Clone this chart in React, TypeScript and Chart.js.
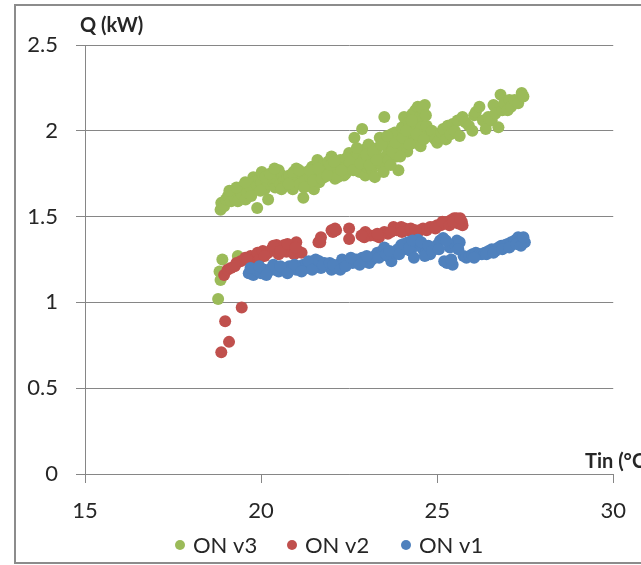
import React, { useEffect, useRef } from "react";
import { Chart, registerables } from "chart.js";

Chart.register(...registerables);

// Heat output Q (kW) against inlet temperature Tin (°C) for three fan speeds.
const seriesLabels = ["ON v3", "ON v2", "ON v1"];
const seriesColors = ["#9BBB59", "#C0504D", "#4F81BD"];

const onV3: [number, number][] = [
  [18.78, 1.02], [18.85, 1.13], [18.82, 1.18], [18.9, 1.25], [19.34, 1.27],
  [18.85, 1.54], [18.87, 1.58], [18.95, 1.56], [19.0, 1.6], [19.06, 1.62],
  [19.15, 1.59], [19.2, 1.64], [19.25, 1.61], [19.34, 1.59], [19.4, 1.66],
  [19.5, 1.68], [19.45, 1.63], [19.56, 1.6], [19.6, 1.64], [19.65, 1.69],
  [19.7, 1.67], [19.78, 1.73], [19.82, 1.7], [19.89, 1.55], [19.9, 1.68],
  [19.95, 1.72], [20.0, 1.7], [20.05, 1.74], [20.1, 1.66], [20.15, 1.71],
  [20.2, 1.6], [20.22, 1.69], [20.3, 1.73], [20.35, 1.7], [20.4, 1.67],
  [20.45, 1.72], [20.5, 1.77], [20.55, 1.69], [20.6, 1.74], [20.65, 1.71],
  [20.7, 1.68], [20.75, 1.73], [20.8, 1.74], [20.85, 1.7], [20.9, 1.66],
  [20.95, 1.72], [21.0, 1.78], [21.05, 1.73], [21.1, 1.69], [21.16, 1.75],
  [21.2, 1.61], [21.25, 1.71], [21.3, 1.76], [21.35, 1.68], [21.4, 1.73],
  [21.45, 1.79], [21.5, 1.66], [21.52, 1.77], [21.58, 1.74], [21.6, 1.83],
  [21.65, 1.7], [21.7, 1.76], [21.75, 1.8], [21.8, 1.73], [21.85, 1.77],
  [21.9, 1.82], [21.95, 1.75], [22.0, 1.85], [22.05, 1.78], [22.1, 1.72],
  [22.15, 1.8], [22.2, 1.76], [22.25, 1.83], [22.3, 1.79], [22.35, 1.74],
  [22.4, 1.75], [22.45, 1.81], [22.5, 1.87], [22.55, 1.78], [22.6, 1.84],
  [22.65, 1.96], [22.7, 1.8], [22.75, 1.86], [22.8, 1.76], [22.87, 2.01],
  [22.9, 1.83], [22.93, 1.89], [22.96, 1.74], [23.0, 1.79], [23.05, 1.92],
  [23.1, 1.85], [23.15, 1.77], [23.2, 1.81], [23.23, 1.73], [23.25, 1.87],
  [23.3, 1.9], [23.37, 1.96], [23.4, 1.84], [23.45, 1.79], [23.5, 2.08],
  [23.55, 1.93], [23.6, 1.87], [23.62, 1.83], [23.7, 1.98], [23.75, 1.9],
  [23.8, 1.99], [23.85, 1.85], [23.9, 1.77], [23.92, 1.91], [24.0, 2.02],
  [24.06, 2.08], [24.1, 1.95], [24.15, 1.88], [24.2, 2.05], [24.25, 1.99],
  [24.3, 2.1], [24.34, 1.93], [24.38, 2.12], [24.4, 2.04], [24.45, 2.14],
  [24.47, 1.93], [24.5, 2.08], [24.53, 1.91], [24.55, 2.02], [24.6, 2.11],
  [24.65, 2.15], [24.7, 2.03], [24.72, 1.97], [24.8, 1.97], [24.85, 2.0],
  [24.94, 1.95], [25.0, 1.93], [25.08, 1.96], [25.12, 1.99], [25.17, 2.01],
  [25.25, 1.95], [25.3, 2.03], [25.38, 1.98], [25.44, 2.04], [25.5, 2.0],
  [25.58, 2.06], [25.64, 1.97], [25.72, 2.08], [25.8, 2.05], [25.9, 2.03],
  [26.0, 2.0], [26.05, 2.09], [26.1, 2.11], [26.2, 2.14], [26.3, 2.06],
  [26.38, 2.01], [26.45, 2.08], [26.55, 2.06], [26.6, 2.15], [26.65, 2.1],
  [26.74, 2.02], [26.8, 2.21], [26.85, 2.12], [26.9, 2.16], [27.0, 2.12],
  [27.05, 2.18], [27.1, 2.14], [27.2, 2.18], [27.3, 2.16], [27.4, 2.22],
  [27.45, 2.2],
  [19.1, 1.65], [19.3, 1.67], [19.55, 1.7], [19.72, 1.62], [19.98, 1.65],
  [20.02, 1.76], [20.12, 1.73], [20.25, 1.75], [20.38, 1.78], [20.58, 1.66],
  [20.78, 1.69], [20.92, 1.76], [21.08, 1.77], [21.22, 1.67], [21.38, 1.77],
  [21.48, 1.71], [21.62, 1.78], [21.72, 1.72], [21.88, 1.74], [21.98, 1.8],
  [22.08, 1.82], [22.18, 1.73], [22.28, 1.77], [22.42, 1.84], [22.52, 1.82],
  [22.62, 1.77], [22.72, 1.9], [22.82, 1.81], [22.98, 1.86], [23.08, 1.8],
  [23.18, 1.88], [23.28, 1.83], [23.42, 1.92], [23.48, 1.76], [23.58, 1.97],
  [23.68, 1.8], [23.72, 1.88], [23.82, 1.93], [23.95, 1.85], [24.02, 1.96],
  [24.12, 2.0], [24.22, 1.92], [24.28, 2.06], [24.42, 1.98], [24.58, 2.13],
  [24.62, 1.95], [24.68, 2.09],
];

const onV2: [number, number][] = [
  [18.87, 0.71], [19.09, 0.77], [18.98, 0.89], [19.45, 0.97], [18.95, 1.16],
  [19.05, 1.19], [19.14, 1.2], [19.3, 1.23], [19.42, 1.24], [19.55, 1.26],
  [19.7, 1.27], [19.8, 1.25], [19.9, 1.29], [19.97, 1.26], [20.05, 1.3],
  [20.2, 1.29], [20.3, 1.31], [20.44, 1.335], [20.5, 1.28], [20.6, 1.32],
  [20.66, 1.335], [20.72, 1.295], [20.8, 1.3], [20.88, 1.33], [20.94, 1.28],
  [21.0, 1.35], [21.05, 1.3], [21.15, 1.29], [21.63, 1.35], [21.7, 1.38],
  [22.0, 1.42], [22.04, 1.41], [22.13, 1.42], [22.5, 1.43], [22.5, 1.37],
  [22.93, 1.38], [22.96, 1.41], [23.1, 1.39], [23.23, 1.39], [23.35, 1.38],
  [23.5, 1.41], [23.6, 1.4], [23.76, 1.44], [23.85, 1.42], [23.98, 1.44],
  [24.08, 1.43], [24.17, 1.42], [24.3, 1.41], [24.45, 1.41], [24.52, 1.42],
  [24.6, 1.43], [24.7, 1.42], [24.8, 1.44], [24.9, 1.44], [25.0, 1.45],
  [25.1, 1.45], [25.2, 1.46], [25.3, 1.47], [25.4, 1.48], [25.48, 1.49],
  [25.55, 1.49], [25.62, 1.48], [25.7, 1.47], [25.72, 1.45], [25.6, 1.46],
  [19.25, 1.21], [19.6, 1.25], [20.1, 1.27], [20.35, 1.33], [20.55, 1.3],
  [20.75, 1.34], [20.98, 1.32], [21.68, 1.35], [22.1, 1.43], [22.85, 1.39],
  [23.3, 1.4], [23.68, 1.41], [24.0, 1.41], [24.25, 1.43], [24.38, 1.42],
  [24.95, 1.43], [25.15, 1.47], [25.35, 1.45], [25.45, 1.47], [25.65, 1.49],
];

const onV1: [number, number][] = [
  [19.65, 1.17], [19.78, 1.16], [19.85, 1.19], [19.92, 1.18], [20.0, 1.17],
  [20.1, 1.19], [20.2, 1.18], [20.3, 1.2], [20.4, 1.19], [20.5, 1.18],
  [20.6, 1.2], [20.7, 1.19], [20.8, 1.21], [20.9, 1.2], [21.0, 1.19],
  [21.1, 1.21], [21.2, 1.22], [21.3, 1.2], [21.4, 1.23], [21.5, 1.21],
  [21.55, 1.25], [21.6, 1.22], [21.7, 1.2], [21.8, 1.23], [21.9, 1.21],
  [22.0, 1.19], [22.13, 1.2], [22.2, 1.22], [22.3, 1.25], [22.45, 1.24],
  [22.6, 1.23], [22.7, 1.25], [22.87, 1.26], [22.95, 1.24], [23.07, 1.23],
  [23.15, 1.25], [23.23, 1.27], [23.3, 1.29], [23.43, 1.3], [23.5, 1.32],
  [23.6, 1.27], [23.7, 1.24], [23.78, 1.29], [23.88, 1.31], [23.98, 1.335],
  [24.08, 1.31], [24.17, 1.35], [24.25, 1.3], [24.34, 1.26], [24.4, 1.33],
  [24.45, 1.365], [24.52, 1.34], [24.6, 1.31], [24.7, 1.3], [24.8, 1.28],
  [24.9, 1.31], [25.0, 1.335], [25.08, 1.36], [25.17, 1.375], [25.2, 1.24],
  [25.28, 1.23], [25.36, 1.32], [25.44, 1.22], [25.5, 1.34], [25.56, 1.36],
  [25.64, 1.35], [25.75, 1.27], [25.83, 1.26], [25.92, 1.27], [26.0, 1.28],
  [26.1, 1.29], [26.2, 1.28], [26.27, 1.28], [26.35, 1.29], [26.46, 1.3],
  [26.55, 1.31], [26.65, 1.3], [26.74, 1.32], [26.82, 1.33], [26.93, 1.335],
  [27.0, 1.34], [27.1, 1.35], [27.2, 1.36], [27.3, 1.38], [27.35, 1.36],
  [27.42, 1.37], [27.49, 1.35],
  [19.7, 1.2], [19.95, 1.21], [20.15, 1.16], [20.35, 1.22], [20.55, 1.21],
  [20.75, 1.17], [20.95, 1.22], [21.15, 1.18], [21.35, 1.24], [21.45, 1.19],
  [21.65, 1.24], [21.75, 1.22], [21.95, 1.23], [22.05, 1.22], [22.25, 1.19],
  [22.4, 1.21], [22.55, 1.26], [22.8, 1.22], [23.0, 1.27], [23.35, 1.26],
  [23.55, 1.28], [23.65, 1.3], [23.92, 1.28], [24.05, 1.34], [24.2, 1.32],
  [24.3, 1.36], [24.55, 1.35], [24.65, 1.27], [24.75, 1.33], [24.85, 1.3],
  [25.05, 1.31], [25.25, 1.36], [25.4, 1.25], [25.6, 1.31], [26.05, 1.26],
  [26.4, 1.28], [26.6, 1.29], [26.85, 1.31], [27.05, 1.32], [27.25, 1.34],
  [27.38, 1.33], [27.45, 1.38],
];

const xRange = { min: 15, max: 30, step: 5 };
const yRange = { min: 0, max: 2.5, step: 0.5 };
const yTitle = "Q (kW)";
const xTitle = "Tin (°C)";

const FONT = "Lato, 'Open Sans', sans-serif";
const GRID = "#868686";
const TEXT = "#262626";

const toPoints = (rows: [number, number][]) => rows.map(([x, y]) => ({ x, y }));
const plainNumber = (v: number | string) => String(Math.round(Number(v) * 10) / 10);

const decorations = {
  id: "decorations",
  beforeDraw(chart: Chart) {
    const { ctx, width, height } = chart;
    ctx.save();
    ctx.fillStyle = "#ffffff";
    ctx.fillRect(0, 0, width, height);
    ctx.strokeStyle = "#8c8c8c";
    ctx.lineWidth = 2;
    ctx.beginPath();
    ctx.moveTo(width + 2, 5);
    ctx.lineTo(15, 5);
    ctx.lineTo(15, 563);
    ctx.lineTo(width + 2, 563);
    ctx.stroke();
    ctx.restore();
  },
  afterDraw(chart: Chart) {
    const { ctx, chartArea } = chart;
    ctx.save();
    ctx.fillStyle = TEXT;
    ctx.font = `bold 20px ${FONT}`;
    ctx.textBaseline = "alphabetic";
    ctx.textAlign = "left";
    ctx.fillText(yTitle, chartArea.left - 5, 32);
    ctx.fillText(xTitle, 585, chartArea.bottom - 6);

    // legend row beneath the x axis
    const legendX = [180, 292, 406];
    const legendY = 545;
    ctx.font = `22px ${FONT}`;
    ctx.textBaseline = "middle";
    seriesLabels.forEach((label, i) => {
      ctx.fillStyle = seriesColors[i];
      ctx.beginPath();
      ctx.arc(legendX[i], legendY, 5, 0, Math.PI * 2);
      ctx.fill();
      ctx.fillStyle = TEXT;
      ctx.fillText(label, legendX[i] + 13, legendY + 1);
    });
    ctx.restore();
  },
};

export default function App() {
  const canvasRef = useRef<HTMLCanvasElement | null>(null);

  useEffect(() => {
    const canvas = canvasRef.current;
    if (!canvas) return;
    // drawn so that v1 sits on top of v2, which sits on top of v3
    const series = [onV1, onV2, onV3];
    const colorOf = [seriesColors[2], seriesColors[1], seriesColors[0]];
    const labelOf = [seriesLabels[2], seriesLabels[1], seriesLabels[0]];
    const chart = new Chart(canvas, {
      type: "scatter",
      data: {
        datasets: series.map((rows, i) => ({
          label: labelOf[i],
          data: toPoints(rows),
          backgroundColor: colorOf[i],
          borderColor: colorOf[i],
          borderWidth: 0,
          pointRadius: 6,
          pointHoverRadius: 6,
        })),
      },
      options: {
        responsive: false,
        animation: false,
        layout: { padding: { top: 45, right: 14, left: 0, bottom: 0 } },
        plugins: {
          legend: { display: false },
          tooltip: { enabled: false },
        },
        scales: {
          x: {
            type: "linear",
            min: xRange.min,
            max: xRange.max,
            afterFit: (scale: any) => {
              scale.height = 91;
            },
            ticks: {
              stepSize: xRange.step,
              color: TEXT,
              font: { family: FONT, size: 22 },
              padding: 15,
              maxRotation: 0,
              callback: (v: number | string) => plainNumber(v),
            },
            grid: {
              drawOnChartArea: false,
              drawTicks: true,
              tickLength: 9,
              color: GRID,
            },
            border: { display: true, color: GRID },
          },
          y: {
            type: "linear",
            min: yRange.min,
            max: yRange.max,
            afterFit: (scale: any) => {
              scale.width = 85;
            },
            ticks: {
              stepSize: yRange.step,
              color: TEXT,
              font: { family: FONT, size: 22 },
              padding: 18,
              callback: (v: number | string) => plainNumber(v),
            },
            grid: {
              drawOnChartArea: true,
              drawTicks: true,
              tickLength: 9,
              color: GRID,
            },
            border: { display: true, color: GRID },
          },
        },
      },
      plugins: [decorations],
    });
    return () => chart.destroy();
  }, []);

  return (
    <div style={{ position: "fixed", left: 0, top: 0, width: 641, height: 565 }}>
      <canvas ref={canvasRef} width={641} height={565} style={{ display: "block" }} />
    </div>
  );
}
